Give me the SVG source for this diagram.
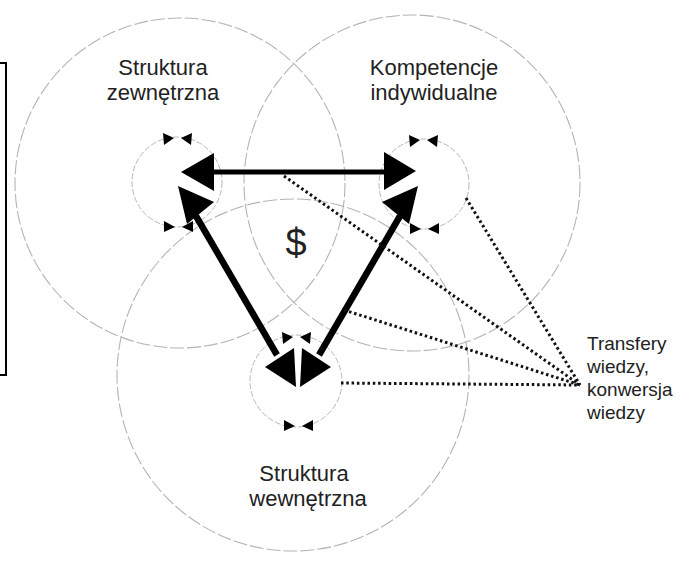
<svg xmlns="http://www.w3.org/2000/svg" width="692" height="563" viewBox="0 0 692 563">
<defs>
<style>
.big{fill:none;stroke:#b4b4b4;stroke-width:1.1;stroke-dasharray:14 3}
.small{fill:none;stroke:#b8b8b8;stroke-width:1;stroke-dasharray:6 2}
.lbl{font-family:"Liberation Sans",Arial,sans-serif;font-size:22px;fill:#222;text-anchor:middle}
.tr{font-family:"Liberation Sans",Arial,sans-serif;font-size:19px;fill:#222}
.dot{fill:none;stroke:#111;stroke-width:3;stroke-dasharray:2.5 2.8}
.ah{fill:#000}
</style>
</defs>
<rect width="692" height="563" fill="#fff"/>
<g id="bracket"><path d="M0 63 H6 V375 H0" fill="none" stroke="#000" stroke-width="2"/></g>

<g id="struktura-zewnetrzna">
<circle class="big" cx="180" cy="183" r="165"/>
<text class="lbl" x="163" y="75">Struktura</text>
<text class="lbl" x="163" y="100">zewnętrzna</text>
</g>
<g id="kompetencje-indywidualne">
<circle class="big" cx="412" cy="183" r="168"/>
<text class="lbl" x="434" y="75">Kompetencje</text>
<text class="lbl" x="434" y="100">indywidualne</text>
</g>
<g id="struktura-wewnetrzna">
<circle class="big" cx="293" cy="375" r="176"/>
<text class="lbl" x="304" y="481">Struktura</text>
<text class="lbl" x="308" y="506">wewnętrzna</text>
</g>
<g id="value">
<text x="296" y="256" style="font-family:'Liberation Sans',Arial,sans-serif;font-size:38px;fill:#222;text-anchor:middle">$</text>
</g>

<g id="cycle-left">
<circle class="small" cx="177" cy="182" r="45"/>
<polygon class="ah" points="163,133 174,138 164,145"/>
<polygon class="ah" points="192,133 181,138 191,145"/>
<polygon class="ah" points="164,221 175,227 164,232"/>
<polygon class="ah" points="193,221 182,227 193,232"/>
</g>
<g id="cycle-right">
<circle class="small" cx="424" cy="184" r="45"/>
<polygon class="ah" points="409,135 420,140 410,147"/>
<polygon class="ah" points="438,135 427,140 437,147"/>
<polygon class="ah" points="410,223 421,229 410,234"/>
<polygon class="ah" points="439,223 428,229 439,234"/>
</g>
<g id="cycle-bottom">
<circle class="small" cx="296" cy="381" r="46"/>
<polygon class="ah" points="282,332 293,337 283,344"/>
<polygon class="ah" points="311,332 300,337 310,344"/>
<polygon class="ah" points="284,420 295,426 284,431"/>
<polygon class="ah" points="313,420 302,426 313,431"/>
</g>

<g id="connectors">
<line x1="205" y1="172" x2="392" y2="172" stroke="#000" stroke-width="5"/>
<polygon class="ah" points="181,172 214,153 214,191"/>
<polygon class="ah" points="416,171 384,152 384,190"/>
<line x1="196" y1="216" x2="277" y2="355" stroke="#000" stroke-width="6.5"/>
<polygon class="ah" points="178,186 214,202 187,224"/>
<polygon class="ah" points="296,387 265,367 294,348"/>
<line x1="400" y1="216" x2="319" y2="355" stroke="#000" stroke-width="6.5"/>
<polygon class="ah" points="418,186 382,202 409,224"/>
<polygon class="ah" points="300,387 331,367 302,348"/>
<line x1="298" y1="345" x2="298" y2="390" stroke="#fff" stroke-width="3"/>
<line class="dot" x1="284" y1="176" x2="580" y2="385"/>
<line class="dot" x1="466" y1="198" x2="580" y2="385"/>
<line class="dot" x1="344" y1="310" x2="580" y2="385"/>
<line class="dot" x1="341" y1="383" x2="580" y2="385"/>
</g>

<g id="transfery">
<text class="tr" x="587" y="350">Transfery</text>
<text class="tr" x="587" y="373">wiedzy,</text>
<text class="tr" x="587" y="396">konwersja</text>
<text class="tr" x="587" y="419">wiedzy</text>
</g>
</svg>
